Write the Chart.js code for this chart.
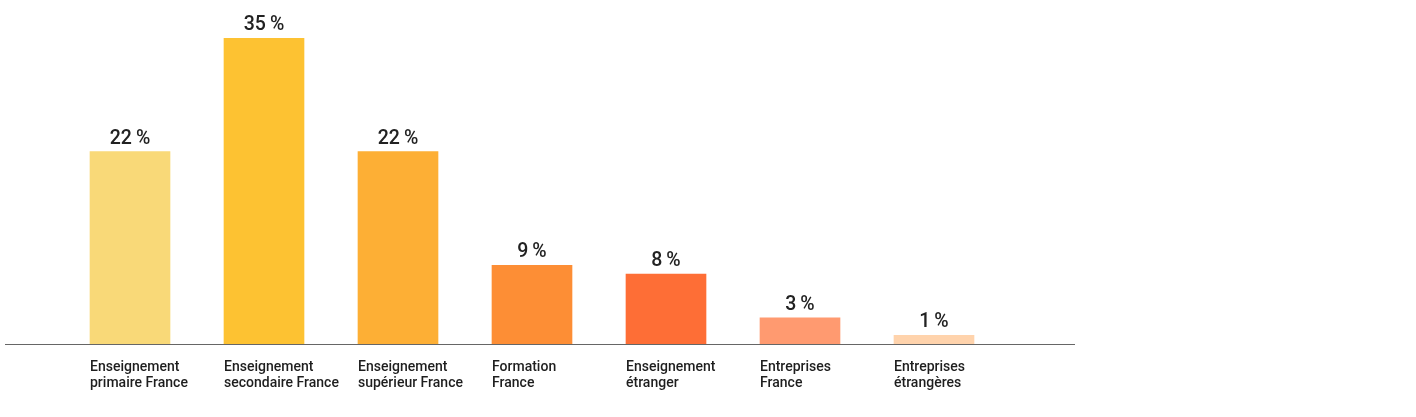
<!DOCTYPE html>
<html>
<head>
<meta charset="utf-8">
<script src="https://cdn.jsdelivr.net/npm/chart.js@4.4.1/dist/chart.umd.min.js"></script>
<style>
  html, body { margin: 0; padding: 0; background: #fff; }
  #wrap { width: 1416px; height: 417px; position: relative; }
</style>
</head>
<body>
<div id="wrap"><canvas id="chart"></canvas></div>
<script>
// categories (two lines each) and shares in %
const categories = [
  ['Enseignement', 'primaire France'],
  ['Enseignement', 'secondaire France'],
  ['Enseignement', 'supérieur France'],
  ['Formation', 'France'],
  ['Enseignement', 'étranger'],
  ['Entreprises', 'France'],
  ['Entreprises', 'étrangères']
];
const shares = [22, 35, 22, 9, 8, 3, 1];
const barColors = ['#F9D978', '#FDC232', '#FDAF35', '#FD8E35', '#FE6E36', '#FF9A70', '#FFD3AC'];

const fontFam = 'Roboto, "Open Sans", sans-serif';

// value labels above the bars
const valueLabels = {
  id: 'valueLabels',
  afterDatasetsDraw(chart) {
    const ctx = chart.ctx;
    const meta = chart.getDatasetMeta(0);
    ctx.save();
    ctx.fillStyle = '#222';
    ctx.font = '500 19.5px ' + fontFam;
    ctx.textAlign = 'center';
    ctx.textBaseline = 'bottom';
    meta.data.forEach((bar, i) => {
      ctx.fillText(shares[i] + '\u2009%', bar.x, bar.y - 3);
    });
    ctx.restore();
  }
};

// baseline running wider than the bars
const baseline = {
  id: 'baseline',
  afterDatasetsDraw(chart) {
    const ctx = chart.ctx;
    const y = chart.scales.y.getPixelForValue(0);
    ctx.save();
    ctx.strokeStyle = '#666';
    ctx.lineWidth = 1.2;
    ctx.beginPath();
    ctx.moveTo(chart.chartArea.left - 58, y + 0.5);
    ctx.lineTo(chart.chartArea.right + 74, y + 0.5);
    ctx.stroke();
    ctx.restore();
  }
};

new Chart(document.querySelector('#chart'), {
  type: 'bar',
  data: {
    labels: categories,
    datasets: [{
      data: shares,
      backgroundColor: barColors,
      barThickness: 80,
      borderWidth: 0
    }]
  },
  options: {
    responsive: true,
    maintainAspectRatio: false,
    animation: false,
    layout: { padding: { left: 63, right: 415, top: 38, bottom: 0 } },
    plugins: { legend: { display: false }, tooltip: { enabled: false } },
    scales: {
      x: {
        grid: { display: false, drawTicks: false },
        border: { display: false },
        ticks: {
          color: '#1e1e1e',
          font: { family: fontFam, size: 14, weight: '500', lineHeight: 1.15 },
          align: 'start',
          labelOffset: -40,
          padding: 15,
          maxRotation: 0,
          autoSkip: false
        },
        afterFit(scale) { scale.height = 73; }
      },
      y: {
        display: false,
        min: 0,
        max: 35
      }
    }
  },
  plugins: [valueLabels, baseline]
});
</script>
</body>
</html>
